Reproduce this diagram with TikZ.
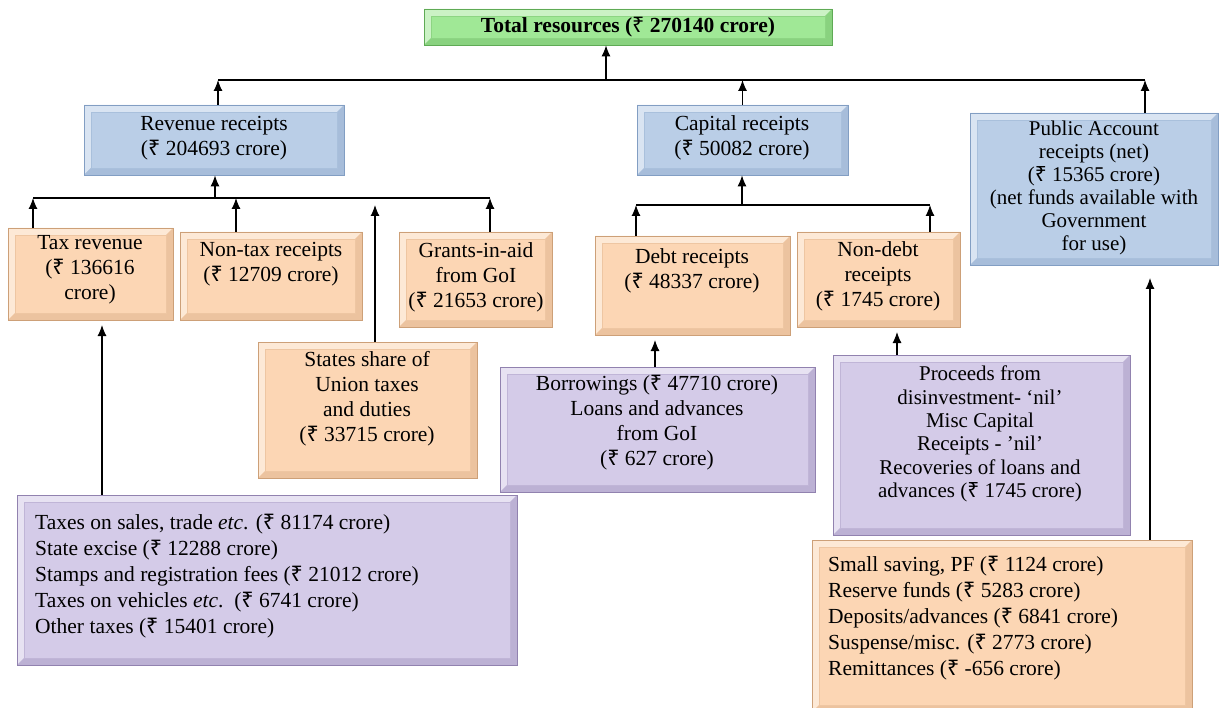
\documentclass[tikz,border=0pt]{standalone}
\usepackage{fontspec}
\usepackage{newunicodechar}
\setmainfont{Liberation Serif}
\newfontfamily\rupfont{Noto Sans}
\newunicodechar{₹}{{\rupfont\symbol{"20B9}}}
\usetikzlibrary{arrows.meta}
\definecolor{gfill}{RGB}{160,232,150}
\definecolor{gedge}{RGB}{95,170,85}
\definecolor{bfill}{RGB}{186,206,231}
\definecolor{bedge}{RGB}{130,158,195}
\definecolor{pfill}{RGB}{252,214,180}
\definecolor{pedge}{RGB}{205,160,120}
\definecolor{vfill}{RGB}{212,203,232}
\definecolor{vedge}{RGB}{145,130,175}
\tikzset{
  bx/.style 2 args={draw=#2, line width=0.8pt, fill=#1, inner sep=0pt,
    path picture={
      \path (path picture bounding box.south west) coordinate (oSW)
            (path picture bounding box.north east) coordinate (oNE)
            ([shift={(7pt,7pt)}]path picture bounding box.south west) coordinate (iSW)
            ([shift={(-7pt,-7pt)}]path picture bounding box.north east) coordinate (iNE);
      \fill[#1!55!white] (oSW) -- (oSW|-oNE) -- (oNE) -- (iNE) -- (iSW|-iNE) -- (iSW) -- cycle;
      \fill[#1!65!#2] (oSW) -- (oNE|-oSW) -- (oNE) -- (iNE) -- (iNE|-iSW) -- (iSW) -- cycle;
      \fill[#1] (iSW) rectangle (iNE);
      \draw[#1!70!#2, line width=0.6pt] (iSW) rectangle (iNE);}},
  tx/.style={align=center, inner sep=0pt, font=\fontsize{21.5}{25}\selectfont},
  txl/.style={align=left, inner sep=0pt, font=\fontsize{21.5}{26}\selectfont},
  arr/.style={-{Latex[length=11pt,width=9pt]}, line width=1.1pt},
  ln/.style={line width=1.1pt}
}
\newcommand{\mkbox}[6]{% name, x1, y1, x2, y2, style
  \node[#6, minimum width={(#4-#2)*1pt}, minimum height={(#5-#3)*1pt}] (#1) at ({(#2+#4)/2},{(#3+#5)/2}) {};}
\begin{document}
\begin{tikzpicture}[x=1pt,y=-1pt]
\useasboundingbox[fill=white] (0,0) rectangle (1222,708);
% boxes
\mkbox{tot}{424}{9}{832}{45}{bx={gfill}{gedge}}
\mkbox{rev}{84}{105}{344}{175}{bx={bfill}{bedge}}
\mkbox{cap}{637}{105}{848}{175}{bx={bfill}{bedge}}
\mkbox{pub}{970}{113}{1218}{265}{bx={bfill}{bedge}}
\mkbox{tax}{8}{228}{173}{320}{bx={pfill}{pedge}}
\mkbox{ntax}{180}{232}{362}{320}{bx={pfill}{pedge}}
\mkbox{gia}{399}{232}{552}{327}{bx={pfill}{pedge}}
\mkbox{debt}{595}{236}{790}{335}{bx={pfill}{pedge}}
\mkbox{ndebt}{797}{232}{960}{327}{bx={pfill}{pedge}}
\mkbox{share}{258}{342}{477}{478}{bx={pfill}{pedge}}
\mkbox{borr}{500}{367}{815}{492}{bx={vfill}{vedge}}
\mkbox{proc}{833}{355}{1130}{535}{bx={vfill}{vedge}}
\mkbox{taxes}{17}{495}{517}{665}{bx={vfill}{vedge}}
\mkbox{pa}{812}{540}{1192}{712}{bx={pfill}{pedge}}
% texts
\node[tx, font=\fontsize{21.5}{25}\selectfont\bfseries] (totT) at (628,27) {Total resources (₹ 270140 crore)};
\node[tx] (revT) at (214,138) {Revenue receipts\\(₹ 204693 crore)};
\node[tx] (capT) at (742,138) {Capital receipts\\(₹ 50082 crore)};
\node[tx, font=\fontsize{21}{23}\selectfont] (pubT) at (1094,188) {Public Account\\receipts (net)\\(₹ 15365 crore)\\(net funds available with\\Government\\for use)};
\node[tx] (taxT) at (90,270) {Tax revenue\\(₹ 136616\\crore)};
\node[tx] (ntaxT) at (271,264) {Non-tax receipts\\(₹ 12709 crore)};
\node[tx] (giaT) at (476,277) {Grants-in-aid\\from GoI\\(₹ 21653 crore)};
\node[tx] (debtT) at (692,271) {Debt receipts\\(₹ 48337 crore)};
\node[tx] (ndebtT) at (878,276) {Non-debt\\receipts\\(₹ 1745 crore)};
\node[tx] (shareT) at (367,399) {States share of\\Union taxes\\and duties\\(₹ 33715 crore)};
\node[tx] (borrT) at (657,423) {Borrowings (₹ 47710 crore)\\Loans and advances\\from GoI\\(₹ 627 crore)};
\node[tx, font=\fontsize{21}{23.4}\selectfont] (procT) at (980,434) {Proceeds from\\disinvestment- ‘nil’\\Misc Capital\\Receipts - 'nil'\\Recoveries of loans and\\advances (₹ 1745 crore)};
\node[txl, anchor=west] (taxesT) at (35,576) {Taxes on sales, trade \textit{etc}. (₹ 81174 crore)\\State excise (₹ 12288 crore)\\Stamps and registration fees (₹ 21012 crore)\\Taxes on vehicles \textit{etc}.\ \ (₹ 6741 crore)\\Other taxes (₹ 15401 crore)};
\node[txl, anchor=west] (paT) at (828,618) {Small saving, PF (₹ 1124 crore)\\Reserve funds (₹ 5283 crore)\\Deposits/advances (₹ 6841 crore)\\Suspense/misc. (₹ 2773 crore)\\Remittances (₹ -656 crore)};
% connectors: top level
\coordinate (barL) at (218,80);
\coordinate (barR) at (1145,80);
\coordinate (barM) at (606,80);
\draw[ln] (barL) -- (barR);
\draw[arr] (barM) -- (barM |- tot.south);
\draw[arr] (rev.north -| barL) -- (barL);
\draw[arr] (cap.north) -- (cap.north |- barL);
\draw[arr] (pub.north -| barR) -- (barR);
% revenue level
\coordinate (rbL) at (33,198);
\coordinate (rbR) at (490,198);
\coordinate (rbM) at (215,198);
\coordinate (rbN) at (236,198);
\coordinate (rbS) at (375,205);
\draw[ln] (rbL) -- (rbR);
\draw[arr] (rbM) -- (rbM |- rev.south);
\draw[arr] (tax.north -| rbL) -- (rbL);
\draw[arr] (ntax.north -| rbN) -- (rbN);
\draw[arr] (share.north -| rbS) -- (rbS);
\draw[arr] (gia.north -| rbR) -- (rbR);
% capital level
\coordinate (cbL) at (636,205);
\coordinate (cbR) at (930,205);
\coordinate (cbM) at (742,205);
\draw[ln] (cbL) -- (cbR);
\draw[arr] (cbM) -- (cbM |- cap.south);
\draw[arr] (debt.north -| cbL) -- (cbL);
\draw[arr] (ndebt.north -| cbR) -- (cbR);
% lower level
\coordinate (dA) at (655,340);
\draw[arr] (borr.north -| dA) -- (dA);
\coordinate (nA) at (897,332);
\draw[arr] (proc.north -| nA) -- (nA);
\coordinate (tA) at (102,325);
\draw[arr] (taxes.north -| tA) -- (tA);
\coordinate (pA) at (1150,278);
\draw[arr] (pa.north -| pA) -- (pA);
\end{tikzpicture}
\end{document}
